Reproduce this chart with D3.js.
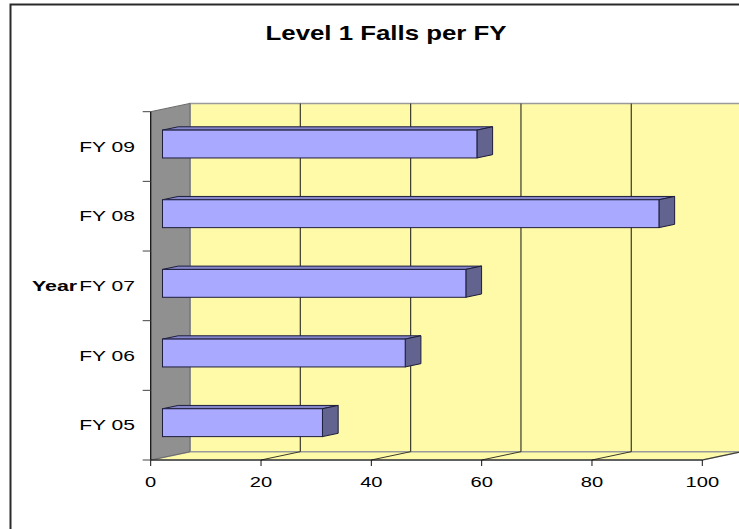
<!DOCTYPE html>
<html>
<head>
<meta charset="utf-8">
<script src="https://cdn.jsdelivr.net/npm/d3@7"></script>
<style>
	body { margin: 0; background: #ffffff; }
	svg { display: block; }
</style>
</head>
<body>
<script>
var years = ['FY 05', 'FY 06', 'FY 07', 'FY 08', 'FY 09'];
var falls = [29, 44, 55, 90, 57];
var xTicks = [0, 20, 40, 60, 80, 100];

var W = 739, H = 529;

// 3D offsets: full depth of the walls, and where the bars sit in it
var depthX = 39.3, depthY = -8.3;
var barFront = 0.3, barBack = 0.7;

var svgSelect = d3.select('body').append('svg')
	.attr('width', W)
	.attr('height', H);

var x = d3.scaleLinear()
	.domain([0, 100])
	.range([150.7, 702.3]);

var y = d3.scaleBand()
	.domain(years)
	.range([460, 111.7])
	.paddingInner(0.6)
	.paddingOuter(0.3);

var yTop = 111.7, yBottom = 460;

var wallGroup = svgSelect.append('g');
var gridGroup = svgSelect.append('g');
var barGroup = svgSelect.append('g');
var axisGroup = svgSelect.append('g');

function pts(arr){
	return arr.map(function(p){ return p[0] + ',' + p[1]; }).join(' ');
}

/*
/	FRAME
*/
svgSelect.append('rect')
	.attr('x', 10.5)
	.attr('y', 4.5)
	.attr('width', 800)
	.attr('height', 600)
	.style('fill', 'none')
	.attr('stroke', '#2a2a2a')
	.attr('stroke-width', 2);

/*
/	WALLS AND FLOOR
*/
var x0 = x(0), x100 = x(100);

// back wall
wallGroup.append('polygon')
	.attr('points', pts([[x0 + depthX, yTop + depthY], [x100 + depthX, yTop + depthY],
		[x100 + depthX, yBottom + depthY], [x0 + depthX, yBottom + depthY]]))
	.style('fill', '#fffaa8')
	.attr('stroke', '#9a9a9a')
	.attr('stroke-width', 1.5);

// floor
wallGroup.append('polygon')
	.attr('points', pts([[x0, yBottom], [x100, yBottom],
		[x100 + depthX, yBottom + depthY], [x0 + depthX, yBottom + depthY]]))
	.style('fill', '#fffaa8')
	.attr('stroke', '#9a9a9a')
	.attr('stroke-width', 1.5);

// left side wall
wallGroup.append('polygon')
	.attr('points', pts([[x0, yTop], [x0 + depthX, yTop + depthY],
		[x0 + depthX, yBottom + depthY], [x0, yBottom]]))
	.style('fill', '#909090')
	.attr('stroke', '#6a6a6a')
	.attr('stroke-width', 1);

/*
/	GRIDLINES
*/
gridGroup.selectAll('line.back').data(xTicks.slice(1)).enter()
	.append('line')
	.attr('x1', function(d){ return x(d) + depthX; })
	.attr('x2', function(d){ return x(d) + depthX; })
	.attr('y1', yTop + depthY)
	.attr('y2', yBottom + depthY)
	.attr('stroke', '#3a3a2a')
	.attr('stroke-width', 1.2);

gridGroup.selectAll('line.floor').data(xTicks.slice(1)).enter()
	.append('line')
	.attr('x1', function(d){ return x(d); })
	.attr('x2', function(d){ return x(d) + depthX; })
	.attr('y1', yBottom)
	.attr('y2', yBottom + depthY)
	.attr('stroke', '#3a3a2a')
	.attr('stroke-width', 1);

/*
/	BARS
*/
var fx = depthX * barFront, fy = depthY * barFront;
var bx = depthX * (barBack - barFront), by = depthY * (barBack - barFront);

years.forEach(function(yr, i){
	var left = x(0) + fx;
	var right = x(falls[i]) + fx;
	var top = y(yr) + fy;
	var bottom = top + y.bandwidth();
	var bar = barGroup.append('g');

	bar.append('polygon')
		.attr('points', pts([[left, top], [right, top], [right + bx, top + by], [left + bx, top + by]]))
		.style('fill', '#8484c8')
		.attr('stroke', '#1e1e3c')
		.attr('stroke-width', 1);

	bar.append('polygon')
		.attr('points', pts([[right, top], [right + bx, top + by], [right + bx, bottom + by], [right, bottom]]))
		.style('fill', '#63638f')
		.attr('stroke', '#1e1e3c')
		.attr('stroke-width', 1);

	bar.append('rect')
		.attr('x', left)
		.attr('y', top)
		.attr('width', right - left)
		.attr('height', y.bandwidth())
		.style('fill', '#a9a9ff')
		.attr('stroke', '#1e1e3c')
		.attr('stroke-width', 1);
});

/*
/	AXES
*/
axisGroup.append('line')
	.attr('x1', x0).attr('x2', x100)
	.attr('y1', yBottom).attr('y2', yBottom)
	.attr('stroke', '#111')
	.attr('stroke-width', 1.2);

axisGroup.append('line')
	.attr('x1', x0).attr('x2', x0)
	.attr('y1', yTop).attr('y2', yBottom)
	.attr('stroke', '#111')
	.attr('stroke-width', 1.2);

axisGroup.selectAll('line.xtick').data(xTicks).enter()
	.append('line')
	.attr('x1', function(d){ return x(d); })
	.attr('x2', function(d){ return x(d); })
	.attr('y1', yBottom)
	.attr('y2', yBottom + 6)
	.attr('stroke', '#111')
	.attr('stroke-width', 1);

var yBounds = y.domain().map(function(d){ return y(d) - y.step() * 0.3; }).concat([yBottom]);
axisGroup.selectAll('line.ytick').data(yBounds).enter()
	.append('line')
	.attr('x1', x0 - 8)
	.attr('x2', x0)
	.attr('y1', function(d){ return d; })
	.attr('y2', function(d){ return d; })
	.attr('stroke', '#444')
	.attr('stroke-width', 1);

axisGroup.selectAll('text.xlab').data(xTicks).enter()
	.append('text')
	.attr('transform', function(d){ return 'translate(' + x(d) + ',486.7) scale(1.3,1)'; })
	.attr('text-anchor', 'middle')
	.attr('font-family', 'Liberation Sans, Arial, sans-serif')
	.attr('font-size', '15.5px')
	.attr('fill', '#000')
	.text(function(d){ return d; });

axisGroup.selectAll('text.ylab').data(years).enter()
	.append('text')
	.attr('transform', function(d){
		return 'translate(135,' + (y(d) + y.bandwidth() / 2 + 5.3) + ') scale(1.36,1)'; })
	.attr('text-anchor', 'end')
	.attr('font-family', 'Liberation Sans, Arial, sans-serif')
	.attr('font-size', '15.5px')
	.attr('fill', '#000')
	.text(function(d){ return d; });

axisGroup.append('text')
	.attr('transform', 'translate(32,' + (y('FY 07') + y.bandwidth() / 2 + 5.3) + ') scale(1.38,1)')
	.attr('text-anchor', 'start')
	.attr('font-family', 'Liberation Sans, Arial, sans-serif')
	.attr('font-size', '15.5px')
	.attr('font-weight', '700')
	.attr('fill', '#000')
	.text('Year');

/*
/	TITLE
*/
svgSelect.append('text')
	.attr('transform', 'translate(386,40) scale(1.23,1)')
	.attr('text-anchor', 'middle')
	.attr('font-family', 'Liberation Sans, Arial, sans-serif')
	.attr('font-size', '21px')
	.attr('font-weight', '700')
	.attr('fill', '#000')
	.text('Level 1 Falls per FY');
</script>
</body>
</html>
